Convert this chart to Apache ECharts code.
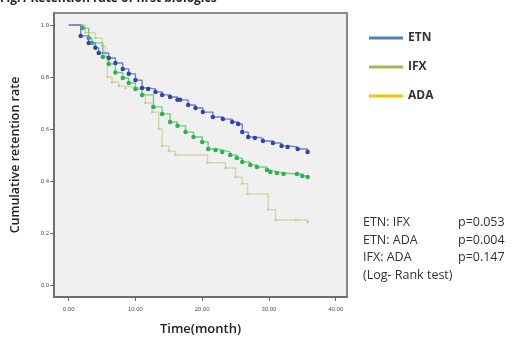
<!DOCTYPE html>
<html><head><meta charset="utf-8">
<script src="https://cdn.jsdelivr.net/npm/echarts@6/dist/echarts.min.js"></script>
<style>html,body{margin:0;padding:0;background:#fff}#c{width:517px;height:341px}</style>
</head><body><div id="c"></div>
<script>
const seriesNames = ['ETN', 'IFX', 'ADA'];
const etnTime = [0, 1.8, 3.0, 4.0, 4.5, 6.0, 7.0, 8.1, 9.0, 10.0, 11.0, 11.9, 13.0, 14.0, 15.2, 16.3, 16.7, 17.9, 19.0, 20.1, 21.6, 23.1, 24.5, 25.4, 26.0, 26.9, 27.9, 29.1, 30.6, 31.9, 32.8, 34.3, 35.8];
const etnRate = [1.0, 0.958, 0.931, 0.912, 0.892, 0.873, 0.854, 0.831, 0.812, 0.788, 0.758, 0.754, 0.742, 0.731, 0.723, 0.712, 0.712, 0.692, 0.681, 0.665, 0.646, 0.638, 0.627, 0.619, 0.588, 0.569, 0.565, 0.554, 0.546, 0.535, 0.531, 0.523, 0.512];
const ifxTime = [0, 2.1, 3.0, 3.5, 5.1, 6.0, 7.0, 8.1, 9.0, 10.0, 11.0, 12.7, 14.0, 15.2, 16.3, 17.5, 18.7, 20.0, 20.9, 22.0, 23.0, 24.2, 25.2, 26.0, 27.2, 28.2, 29.7, 30.2, 31.2, 32.2, 34.2, 35.0, 35.8];
const ifxRate = [1.0, 0.988, 0.95, 0.931, 0.877, 0.85, 0.817, 0.796, 0.777, 0.754, 0.731, 0.685, 0.658, 0.627, 0.612, 0.588, 0.569, 0.55, 0.523, 0.519, 0.512, 0.5, 0.488, 0.473, 0.462, 0.454, 0.442, 0.435, 0.431, 0.427, 0.427, 0.419, 0.415];
const adaTime = [0, 1.0, 2.5, 4.0, 5.0, 5.5, 5.8, 6.5, 7.5, 8.5, 11.0, 11.5, 12.5, 13.5, 14.0, 15.0, 16.0, 20.8, 23.5, 25.0, 26.0, 26.8, 29.9, 31.0, 34.0, 35.8];
const adaRate = [1.0, 1.0, 0.97, 0.95, 0.92, 0.88, 0.80, 0.78, 0.765, 0.758, 0.735, 0.70, 0.665, 0.60, 0.535, 0.515, 0.50, 0.47, 0.45, 0.415, 0.39, 0.35, 0.29, 0.25, 0.25, 0.242];
const yTicks = [0, 0.2, 0.4, 0.6, 0.8, 1.0];
const xTicks = [0, 10, 20, 30, 40];
const pairLabels = ['ETN: IFX', 'ETN: ADA', 'IFX: ADA', '(Log- Rank test)'];
const pValues = ['p=0.053', 'p=0.004', 'p=0.147', ''];

const lineColors = ['#6f7fcc', '#74cc84', '#d9d3a6'];
const dotColors = ['#3544ac', '#2cb24a', '#cfc78e'];
const legendColors = ['#4f81bd', '#9bbb59', '#ffc000'];
const dotSizes = [4.5, 4.5, 2.5];

function build(times, rates) {
  return times.map((t, i) => i === 0 ? {value: [t, rates[i]], symbolSize: 0} : [t, rates[i]]);
}
const allTimes = [etnTime, ifxTime, adaTime];
const allRates = [etnRate, ifxRate, adaRate];

const chart = echarts.init(document.getElementById('c'), null, {renderer: 'canvas'});
const graphics = [{
  type: 'text', left: 0, top: -7,
  style: {text: 'Fig.1 Retention rate of first biologics', font: 'bold 12px "Open Sans"', fill: '#222'}
}];
pairLabels.forEach((s, i) => {
  graphics.push({type: 'text', left: 363, top: 216 + i * 17.5, style: {text: s, font: '12.5px "Open Sans"', fill: '#333'}});
  if (pValues[i]) graphics.push({type: 'text', left: 458, top: 216 + i * 17.5, style: {text: pValues[i], font: '12.5px "Open Sans"', fill: '#333'}});
});

chart.setOption({
  animation: false,
  backgroundColor: '#fff',
  grid: {left: 54, top: 13, right: 170, bottom: 44, show: true, backgroundColor: '#f0f0f0', borderColor: '#8a8a8a', borderWidth: 2},
  legend: {
    orient: 'vertical', left: 364, top: 27, itemGap: 17, itemWidth: 34, itemHeight: 3, icon: 'rect',
    textStyle: {fontFamily: 'Open Sans', fontWeight: 'bold', fontSize: 12, color: '#333'},
    data: seriesNames.map((n, i) => ({name: n, itemStyle: {color: legendColors[i]}}))
  },
  xAxis: {
    type: 'value', min: -2.2, max: 41.7,
    name: 'Time(month)', nameLocation: 'middle', nameGap: 26,
    nameTextStyle: {fontFamily: 'Open Sans', fontSize: 13, fontWeight: 600, color: '#222'},
    axisLine: {show: true, onZero: false, lineStyle: {color: '#666', width: 1.5}},
    axisTick: {show: true, length: 4, customValues: xTicks, lineStyle: {color: '#666'}},
    axisLabel: {customValues: xTicks, formatter: v => v.toFixed(2), fontSize: 6, color: '#555', margin: 9},
    splitLine: {show: false}
  },
  yAxis: {
    type: 'value', min: -0.046, max: 1.046,
    name: 'Cumulative retention rate', nameLocation: 'middle', nameGap: 32,
    nameTextStyle: {fontFamily: 'Open Sans', fontSize: 12.5, fontWeight: 600, color: '#222'},
    axisLine: {show: true, onZero: false, lineStyle: {color: '#666', width: 1.5}},
    axisTick: {show: true, length: 4, customValues: yTicks, lineStyle: {color: '#666'}},
    axisLabel: {customValues: yTicks, formatter: v => v.toFixed(1), fontSize: 6, color: '#555', margin: 5},
    splitLine: {show: false}
  },
  series: seriesNames.map((n, i) => ({
    name: n, type: 'line', step: 'end',
    data: build(allTimes[i], allRates[i]),
    symbol: 'circle', symbolSize: dotSizes[i],
    lineStyle: {color: lineColors[i], width: 1.4},
    itemStyle: {color: dotColors[i]},
    z: 3 - i
  })),
  graphic: graphics
});
</script></body></html>
